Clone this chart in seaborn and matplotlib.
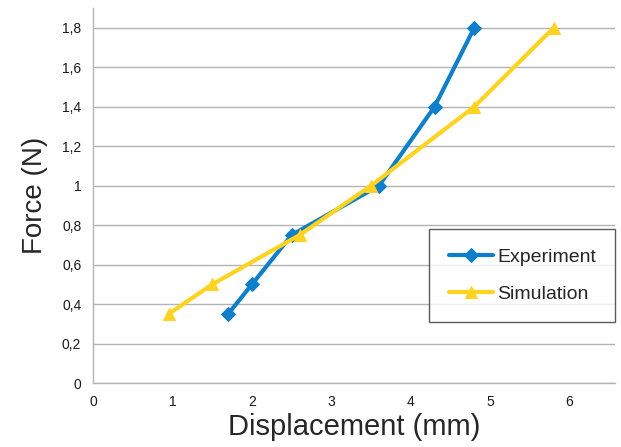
import matplotlib
matplotlib.use("Agg")
import matplotlib.pyplot as plt
import seaborn as sns
import pandas as pd
from matplotlib.ticker import FuncFormatter

exp_x = [1.7, 2.0, 2.5, 3.6, 4.3, 4.8]
exp_y = [0.35, 0.5, 0.75, 1.0, 1.4, 1.8]
sim_x = [0.95, 1.5, 2.6, 3.5, 4.8, 5.8]
sim_y = [0.35, 0.5, 0.75, 1.0, 1.4, 1.8]
x_ticks = [0, 1, 2, 3, 4, 5, 6]
y_ticks = [0, 0.2, 0.4, 0.6, 0.8, 1.0, 1.2, 1.4, 1.6, 1.8]

df = pd.concat([
    pd.DataFrame({"x": exp_x, "y": exp_y, "series": "Experiment"}),
    pd.DataFrame({"x": sim_x, "y": sim_y, "series": "Simulation"}),
])

sns.set_style("white")
plt.rcParams['font.family'] = ['Liberation Sans', 'DejaVu Sans']

fig = plt.figure(figsize=(6.21, 4.47), dpi=100)
ax = fig.add_axes([0.150, 0.143, 0.840, 0.839])

colors = {"Experiment": "#0f7fcb", "Simulation": "#ffd320"}
markers = {"Experiment": "D", "Simulation": "^"}
for name in ["Experiment", "Simulation"]:
    sub = df[df.series == name]
    sns.lineplot(data=sub, x="x", y="y", ax=ax, color=colors[name], lw=3,
                 marker=markers[name], markersize=7 if name == "Experiment" else 9,
                 markeredgecolor=colors[name], label=name, sort=False, zorder=3)

ax.set_xlim(0, 6.57)
ax.set_ylim(0, 1.9)
ax.set_xticks(x_ticks)
ax.set_yticks(y_ticks)
fmt = FuncFormatter(lambda v, p: ("%g" % round(v, 1)).replace(".", ","))
ax.xaxis.set_major_formatter(fmt)
ax.yaxis.set_major_formatter(fmt)
ax.tick_params(axis='both', labelsize=10, colors='#b3b3b3', labelcolor='#1a1a1a',
               length=5, width=1, direction='out')
ax.grid(axis='y', color='#b3b3b3', lw=1)
ax.set_axisbelow(True)
for s in ['top', 'right']:
    ax.spines[s].set_visible(False)
for s in ['left', 'bottom']:
    ax.spines[s].set_color('#b3b3b3')
    ax.spines[s].set_linewidth(1)

ax.set_xlabel("Displacement (mm)", fontsize=21, labelpad=3)
ax.set_ylabel("Force (N)", fontsize=20, labelpad=10)

leg = ax.legend(loc='upper left', bbox_to_anchor=(0.644, 0.411), fontsize=14,
                frameon=True, fancybox=False, edgecolor='#333333',
                handlelength=2.3, borderpad=1.0, labelspacing=1.0, handletextpad=0.2,
                borderaxespad=0)
leg.get_frame().set_linewidth(1)

fig.savefig("out.png", dpi=100)
